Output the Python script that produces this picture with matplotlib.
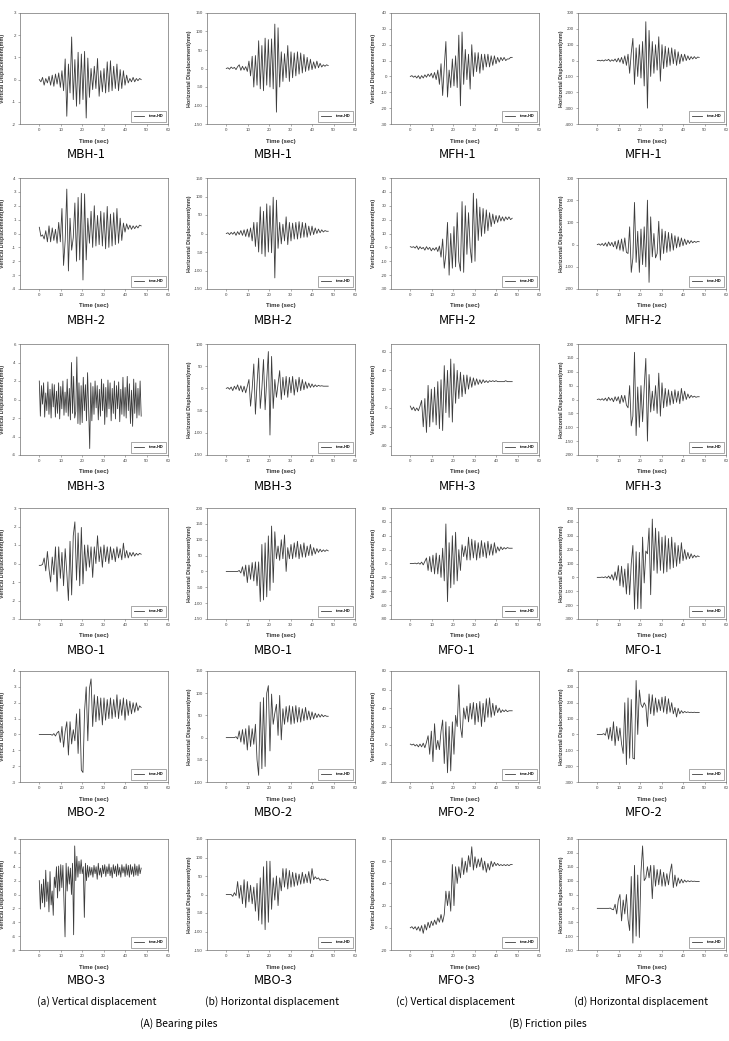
import numpy as np
import matplotlib
matplotlib.use("Agg")
import matplotlib.pyplot as plt

# Alternating extrema of each record.
# Each list is spread evenly over 0 .. 47.5 s.

# Bearing piles - vertical (a)
mbh1_v = [0.0, -0.1, 0.1, -0.25, 0.05, -0.15, 0.15, -0.25, 0.2, -0.3,
          0.25, -0.2, 0.3, -0.35, 0.4, -0.5, 0.93, -1.65, 0.7, -0.6,
          1.92, -0.9, 0.9, -1.2, 1.23, -1.1, 1.15, -0.9, 1.27, -1.73,
          0.97, -0.8, 0.5, -0.45, 0.6, -0.4, 0.95, -0.75, 0.4, -0.55,
          0.5, -0.6, 0.8, -0.55, 0.85, -0.5, 0.6, -0.4, 0.7, -0.5,
          0.45, -0.4, 0.4, -0.25, 0.2, -0.15, 0.05, -0.1, 0.1, -0.1,
          0.05, -0.05, 0.05, 0.0]
mbh2_v = [0.45, -0.2, -0.1, -0.4, 0.2, -0.6, 0.55, -0.6, 0.4, -0.5,
          0.3, -0.7, 0.8, -0.6, 1.8, -2.3, -0.5, 3.2, -2.7, 1.1,
          -1.2, -0.3, 2.2, -2.0, 2.6, -1.9, 2.9, -3.35, 2.85, -1.9,
          1.1, -0.7, 1.6, -1.0, 2.0, -0.9, 1.3, -0.8, 1.6, -0.9,
          1.5, -1.1, 1.95, -1.0, 1.4, -0.9, 1.5, -0.8, 1.8, -0.7,
          1.1, -0.5, 0.75, 0.1, 0.7, 0.3, 0.6, 0.3, 0.55, 0.35,
          0.55, 0.4, 0.6, 0.55]
mbh3_v = [2.0, -1.8, 1.5, -0.5, 1.8, -1.9, 0.7, -1.2, 1.9, -1.6,
          1.1, -2.0, 1.7, -0.8, 1.6, -1.9, 0.9, -1.5, 1.8, -2.1,
          1.4, -1.0, 2.0, -1.7, 0.8, -1.4, 2.2, -1.8, 1.2, -2.2,
          4.0, -1.5, 2.5, -2.0, -1.3, 4.6, -2.6, 1.8, -2.7, 1.5,
          -2.5, 2.4, -1.2, 1.6, -2.3, 2.9, -1.0, -5.3, 1.8, -2.3,
          1.4, -1.6, 2.0, -0.9, 1.5, -2.2, 1.1, -1.8, 2.2, -1.2,
          1.7, -2.7, 1.3, -1.9, 2.1, -1.0, 1.8, -2.3, 1.2, -1.5,
          2.0, -2.1, 1.5, -1.0, 1.9, -2.4, 1.1, -1.6, 2.4, -1.8,
          1.3, -2.0, 2.5, -1.2, 1.7, -2.6, 1.0, -2.9, 2.2, -1.5,
          1.8, -2.0, 1.2, -1.7, 2.0, -1.8]
mbo1_v = [-0.1, -0.1, -0.05, 0.3, -0.4, 0.65, -0.3, -1.0, 0.35, -0.6,
          0.9, -1.5, 0.9, -0.8, 0.6, -1.2, 0.8, -0.5, -2.0, 1.2,
          -1.7, 1.5, 2.25, -0.9, 1.65, -1.2, 1.95, -1.1, 1.0, -0.4,
          1.0, -0.2, 0.9, -0.75, 0.9, 0.0, 1.5, 0.1, 0.9, -0.2,
          1.0, 0.1, 0.9, 0.0, 0.9, 0.2, 0.8, 0.1, 0.9, 0.3,
          0.8, 0.2, 1.1, 0.3, 0.7, 0.3, 0.6, 0.4, 0.6, 0.4,
          0.55, 0.45, 0.55, 0.5]
mbo2_v = [0, 0, 0, 0, 0, 0, 0, 0, -0.05, 0.05,
          -0.1, 0.1, 0.2, -0.5, 0.5, -0.8, 0.2, 0.8, -1.3, 0.8,
          -0.6, 0.3, -0.4, 1.3, -1.2, 1.6, -2.25, -2.4, 1.5, 3.0,
          -0.4, 2.9, 3.5, 0.5, 2.5, 0.8, 2.4, 0.9, 2.3, 0.6,
          2.3, 0.9, 2.2, 1.0, 2.3, 1.0, 2.2, 1.1, 2.5, 1.0,
          2.2, 1.2, 2.3, 0.9, 2.2, 1.2, 2.1, 1.3, 2.0, 1.4,
          2.0, 1.5, 1.8, 1.7]
mbo3_v = [2.0, -2.1, 1.5, -1.2, 2.2, -1.8, 3.5, -1.0, 1.8, -2.5,
          3.3, -1.5, 0.5, -3.0, 2.5, 1.0, 4.0, -0.5, 4.1, 0.5,
          4.3, 1.0, 4.2, -1.0, -6.1, 4.5, 0.5, 4.0, 1.5, 3.8,
          0.0, 4.5, -5.8, 7.0, 2.0, 5.5, 2.5, 4.8, 3.0, 5.0,
          3.0, 4.0, -3.3, 4.5, 2.0, 4.2, 2.5, 4.0, 2.8, 3.9,
          2.5, 4.2, 3.0, 4.0, 2.2, 4.5, 2.8, 3.8, 2.5, 4.2,
          3.0, 4.3, 2.6, 4.0, 3.0, 4.4, 2.7, 3.9, 2.4, 4.3,
          3.0, 4.1, 2.6, 4.4, 2.8, 3.9, 2.5, 4.3, 3.1, 4.0,
          2.6, 4.4, 2.8, 4.2, 2.5, 4.3, 2.9, 4.0, 2.6, 4.4,
          2.8, 4.1, 2.7, 4.3, 3.0, 3.8]

# Bearing piles - horizontal (b)
mbh1_h = [0, 2, -2, 4, 0, 3, -3, 5, 10, -5,
          6, -4, 5, -8, 20, -20, 33, -50, 35, -45,
          75, -55, 62, -60, 82, -45, 78, -50, 80, -55,
          120, -118, 110, -50, 45, -35, 40, -25, 62, -35,
          45, -25, 42, -20, 45, -15, 42, -12, 38, -8,
          30, -5, 25, -3, 18, 0, 20, 2, 14, 4,
          10, 6, 10, 8]
mbh2_h = [0, 2, -3, 3, -2, 4, -5, 5, -3, 8,
          -5, 10, -8, 12, -10, 15, -20, 30, -35, 30,
          -50, 72, -55, 60, -62, 80, -50, 75, -52, 98,
          -120, 90, -40, 30, -28, 25, -20, 45, -30, 30,
          -20, 28, -15, 30, -15, 32, -12, 30, -10, 28,
          -10, 20, -5, 20, -3, 15, 0, 12, 2, 10,
          4, 8, 6, 6]
mbh3_h = [0, 2, -2, 3, -5, 5, -2, 8, -5, 6,
          -8, 5, -10, 5, 20, -40, 0, 55, -58, 10,
          68, -45, 0, 65, -48, 20, 83, -105, 72, -45,
          20, -20, 10, 40, -25, 25, -15, 27, -20, 25,
          -10, 27, -15, 20, -8, 25, -5, 20, -3, 15,
          0, 12, 2, 10, 3, 8, 4, 7, 5, 6,
          5, 5, 5, 5]
mbo1_h = [0, 0, 0, 0, 0, 0, 0, 0, 3, -5,
          15, -15, 20, -35, 20, -25, 28, -30, 30, -45,
          30, -95, 85, -90, 90, -80, 112, -60, 143, -35,
          125, 40, 80, 35, 100, 40, 115, 0, 75, 40,
          85, 40, 90, 45, 95, 40, 85, 45, 90, 45,
          80, 50, 85, 50, 75, 55, 72, 60, 70, 62,
          68, 63, 68, 65]
mbo2_h = [0, 0, 0, 0, 0, 0, 2, -3, 15, -10,
          18, -15, 20, -28, 27, -20, 20, -15, 30, -50,
          -85, 80, -70, 90, -65, 100, 117, -30, 98, 30,
          55, 75, 5, 95, -5, 65, 30, 70, 35, 72,
          30, 70, 32, 72, 35, 68, 35, 65, 38, 68,
          40, 60, 40, 58, 42, 55, 45, 53, 46, 52,
          47, 50, 48, 48]
mbo3_h = [0, 0, 0, 0, -5, 5, -3, 35, -10, 25,
          -25, 40, -35, 35, -20, 25, -25, 20, -45, 30,
          -70, 45, -80, 75, -95, 90, -75, 90, -40, 45,
          -15, 50, -30, 45, 10, 70, 20, 70, 15, 65,
          20, 60, 22, 58, 25, 55, 28, 60, 30, 55,
          32, 62, 30, 70, 40, 48, 42, 45, 38, 42,
          40, 42, 38, 38]

# Friction piles - vertical (c)
mfh1_v = [0, 0.5, -0.5, 0.3, -1, 0.5, -1.5, 0.5, -1, 1,
          -0.5, 1.5, 0, 2, -1, 2.5, -2, 4, -5, 8,
          -12, 6, 22, -13, 4, -7, 11, -6, 13, -7,
          26, -18.5, 28, -5, 17, -2, 14, -8, 20, 0,
          15, 3, 15, 2, 14, 4, 14, 6, 14, 6,
          13, 7, 13, 8, 12, 9, 12, 10, 12, 10,
          11, 11, 12, 12]
mfh2_v = [0.5, 0, 0.5, -0.5, 1, -1.5, 0.5, -1, 0, -2,
          0.5, -1.5, 0, -2.5, -0.5, -2, 0, -3, 1, -7,
          6, -15, -5, 18, -20, 10, -15, 15, -14, 25,
          -10, -17, 33, -18, 30, -5, 25, 0, -11, 39,
          -10, 35, 5, 29, 8, 28, 10, 27, 12, 25,
          15, 24, 17, 23, 18, 23, 19, 22, 19, 22,
          20, 22, 20, 21]
mfh3_v = [2, -2, 1, -3, 0, -3, 2, 8, -20, 10,
          -26, 24, -20, 20, -15, 22, -18, 28, -22, 30,
          -24, 45, -5, 40, -10, 52, -15, 47, 5, 40,
          10, 38, 12, 35, 15, 35, 20, 33, 22, 32,
          24, 31, 25, 30, 26, 30, 27, 29, 27, 29,
          28, 29, 28, 29, 28, 28, 28, 28, 28, 29,
          28, 28, 28, 28]
mfo1_v = [0, 0, 0, 0.5, -0.5, 1, -1, 2, -2, 3,
          8, -10, 10, -12, 12, -15, 15, -15, 12, -20,
          22, -25, 57, -55, 30, -35, 40, -30, 45, -25,
          20, -10, 27, 10, 25, 5, 38, 5, 35, 8,
          33, 5, 30, 8, 33, 10, 30, 8, 32, 12,
          28, 12, 30, 15, 24, 18, 24, 20, 23, 21,
          23, 22, 22, 22]
mfo2_v = [1, 0, 1, -1, 0.5, -2, 1, -2, 2, -3,
          3, 10, -10, 15, -18, 23, -5, 5, -5, 15,
          27, -20, 25, -30, 20, -28, 25, -10, 32, 20,
          65, 20, 8, 40, 28, 42, 25, 45, 28, 46,
          22, 45, 25, 47, 20, 45, 25, 50, 30, 51,
          30, 45, 32, 43, 35, 40, 35, 38, 36, 38,
          36, 37, 37, 37]
mfo3_v = [0, 1, -1, 1, -2, 1, -3, 2, -5, 3,
          -2, 5, 0, 6, 2, 7, 3, 9, 5, 12,
          5, 12, 33, 20, 33, 15, 57, 20, 55, 40,
          55, 45, 63, 48, 60, 50, 65, 55, 73, 52,
          64, 54, 62, 55, 63, 52, 60, 50, 58, 52,
          60, 55, 59, 56, 58, 56, 57, 56, 57, 56,
          57, 56, 57, 57]

# Friction piles - horizontal (d)
mfh1_h = [0, 2, -2, 3, -3, 5, 0, 8, -5, 5,
          -3, 10, -8, 15, -10, 20, -20, 30, -30, 40,
          -80, 50, 140, -150, 80, -100, 100, -110, 120, -160,
          245, -300, 190, -100, 120, -80, 100, -60, 150, -130,
          100, -50, 90, -40, 80, -30, 80, -20, 70, -30,
          55, -20, 40, -5, 40, 0, 30, 5, 25, 10,
          25, 12, 22, 20]
mfh2_h = [0, 3, -3, 5, -5, 8, -8, 12, -5, 10,
          -10, 15, -20, 20, -25, 25, -30, 30, -35, -40,
          80, -125, -60, 190, -80, 60, -125, 70, -90, 80,
          -100, 200, -170, 125, -55, 50, -60, -40, 105, -70,
          70, -40, 60, -35, 55, -30, 50, -25, 40, -15,
          35, -10, 30, -5, 25, 0, 20, 5, 18, 8,
          15, 10, 14, 13]
mfh3_h = [0, 2, -2, 3, -3, 5, -5, 8, -3, 5,
          -8, 10, -5, 10, -15, 15, -10, 15, -20, -30,
          50, -95, -60, 170, -130, 45, -100, 50, -80, 45,
          148, -150, 90, -45, 30, -40, 50, -50, 95, -60,
          60, -30, 40, -25, 35, -20, 30, -15, 35, -10,
          30, -15, 40, -5, 30, 0, 20, 5, 15, 8,
          12, 8, 10, 10]
mfo1_h = [0, 0, 0, 2, -2, 5, -5, 10, -10, 20,
          -20, 40, -20, 85, -60, 80, -70, 60, -120, 100,
          -125, 100, 230, -230, 185, -225, 180, -225, 290, -40,
          190, 170, 355, -125, 420, 50, 355, 30, 330, 50,
          290, 30, 300, 40, 280, 60, 290, 70, 250, 80,
          230, 100, 250, 120, 200, 130, 180, 135, 170, 140,
          160, 145, 155, 150]
mfo2_h = [0, 0, 0, 0, 5, -5, 40, -30, 45, -40,
          80, -70, 50, -40, 40, -60, -120, 200, -190, 230,
          -150, 220, -150, -155, 340, 0, 280, 190, 170, 200,
          180, 50, 255, 130, 250, 120, 230, 140, 220, 150,
          235, 140, 240, 130, 225, 140, 200, 130, 170, 110,
          165, 130, 150, 135, 145, 138, 142, 138, 140, 138,
          140, 138, 139, 138]
mfo3_h = [0, 0, 0, 0, 0, 0, 0, 0, 1, -3,
          -5, 15, -20, 30, 50, -45, 30, -20, 50, -40,
          -80, 115, -125, 155, -100, 120, -105, 130, 225, 100,
          110, 150, 110, 155, 35, 155, 80, 140, 85, 140,
          80, 130, 80, 125, 85, 130, 160, 75, 120, 80,
          110, 90, 105, 92, 102, 95, 100, 96, 99, 97,
          98, 97, 97, 97]

t_end = 47.5

names_bearing = ["MBH-1", "MBH-2", "MBH-3", "MBO-1", "MBO-2", "MBO-3"]
names_friction = ["MFH-1", "MFH-2", "MFH-3", "MFO-1", "MFO-2", "MFO-3"]

# (data, ymin, ymax, ystep) per column, one list per row
panels = [
    [(mbh1_v, -2, 3, 1), (mbh1_h, -150, 150, 50), (mfh1_v, -30, 40, 10), (mfh1_h, -400, 300, 100)],
    [(mbh2_v, -4, 4, 1), (mbh2_h, -150, 150, 50), (mfh2_v, -30, 50, 10), (mfh2_h, -200, 300, 100)],
    [(mbh3_v, -6, 6, 2), (mbh3_h, -150, 100, 50), (mfh3_v, -50, 68, 20), (mfh3_h, -200, 200, 50)],
    [(mbo1_v, -3, 3, 1), (mbo1_h, -150, 200, 50), (mfo1_v, -80, 80, 20), (mfo1_h, -300, 500, 100)],
    [(mbo2_v, -3, 4, 1), (mbo2_h, -100, 150, 50), (mfo2_v, -40, 80, 20), (mfo2_h, -300, 400, 100)],
    [(mbo3_v, -8, 8, 2), (mbo3_h, -150, 150, 50), (mfo3_v, -20, 80, 20), (mfo3_h, -150, 250, 50)],
]
ylabels = ["Vertical Displacement(mm)", "Horizontal Displacement(mm)",
           "Vertical Displacement(mm)", "Horizontal Displacement(mm)"]

W, H = 729, 1041
fig = plt.figure(figsize=(W / 100, H / 100), dpi=100)
fig.patch.set_facecolor("white")

col_left = [20, 207, 391, 578]
row_top = [13, 178, 344, 508, 671, 839]
bw, bh = 148, 111
axis_col = "#707070"
line_col = "#3c3c3c"
cap_font = ["Noto Sans CJK KR", "DejaVu Sans"]

for r, row in enumerate(panels):
    for c, (vals, y0, y1, ystep) in enumerate(row):
        left, top = col_left[c], row_top[r]
        ax = fig.add_axes([left / W, 1 - (top + bh) / H, bw / W, bh / H])
        t = np.linspace(0, t_end, len(vals))
        ax.plot(t, vals, color=line_col, lw=0.6, label="time-HD")
        ax.set_xlim(-9, 60)
        ax.set_ylim(y0, y1)
        ax.set_xticks(np.arange(0, 61, 10))
        first = int(np.ceil(y0 / ystep)) * ystep
        ax.set_yticks(np.arange(first, y1 + 0.001, ystep))
        ax.yaxis.set_major_formatter(matplotlib.ticker.FormatStrFormatter("%g"))
        for sp in ax.spines.values():
            sp.set_color(axis_col)
            sp.set_linewidth(0.5)
        ax.tick_params(labelsize=3.2, length=1.5, width=0.4, pad=1.5,
                       color=axis_col, labelcolor="#444444")
        for lab in ax.get_xticklabels() + ax.get_yticklabels():
            lab.set_family("Liberation Sans")
        ax.text(0.5, -17 / bh, "Time (sec)", transform=ax.transAxes, ha="center",
                va="center", fontsize=4.3, fontweight="bold", family="Liberation Sans",
                color="#333333")
        ax.text(-17 / bw, 0.5, ylabels[c], transform=ax.transAxes, ha="center",
                va="center", rotation=90, fontsize=3.9, fontweight="bold",
                family="Liberation Sans", color="#333333")
        leg = ax.legend(loc="lower right", frameon=True, fancybox=False,
                        handlelength=2.6, borderpad=0.9, borderaxespad=0.6,
                        handletextpad=0.8, prop={"family": "Liberation Sans",
                                                 "weight": "bold", "size": 2.8})
        leg.get_frame().set_edgecolor("#444444")
        leg.get_frame().set_linewidth(0.4)
        name = names_bearing[r] if c < 2 else names_friction[r]
        fig.text((left + bw / 2 - 8) / W, 1 - (top + bh + 31) / H, name,
                 ha="center", va="center", fontsize=9, family=cap_font)

captions = ["(a) Vertical displacement", "(b) Horizontal displacement",
            "(c) Vertical displacement", "(d) Horizontal displacement"]
cap_x = [97, 272, 455, 641]
for x, s in zip(cap_x, captions):
    fig.text(x / W, 1 - 1002 / H, s, ha="center", va="center", fontsize=7.4, family=cap_font)
fig.text(179 / W, 1 - 1024 / H, "(A) Bearing piles", ha="center", va="center",
         fontsize=7.4, family=cap_font)
fig.text(548 / W, 1 - 1024 / H, "(B) Friction piles", ha="center", va="center",
         fontsize=7.4, family=cap_font)

fig.savefig("out.png", dpi=100, facecolor="white")
